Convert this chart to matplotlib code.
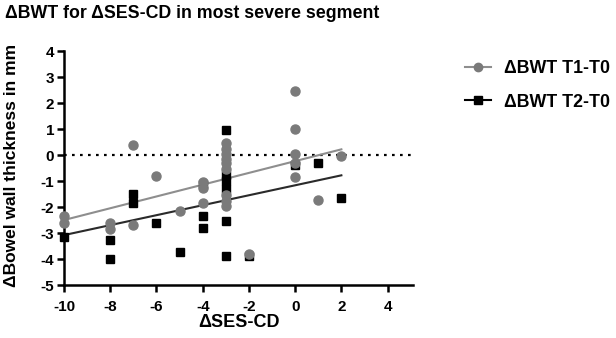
import numpy as np
import matplotlib
matplotlib.use("Agg")
import matplotlib.pyplot as plt

plt.rcParams['font.family'] = ['Liberation Sans', 'DejaVu Sans']

# ΔBWT T1-T0 (circles)
t1_x = [-10, -10, -8, -8, -7, -7, -6, -5, -4, -4, -4,
        -3, -3, -3, -3, -3, -3, -3, -3, -3,
        -2, 0, 0, 0, 0, 0, 1, 2]
t1_y = [-2.35, -2.6, -2.62, -2.86, 0.38, -2.69, -0.81, -2.15, -1.03, -1.25, -1.86,
        0.45, 0.25, 0.05, -0.15, -0.3, -0.55, -1.55, -1.75, -1.95,
        -3.8, 2.47, 0.99, 0.03, -0.3, -0.83, -1.73, -0.05]

# ΔBWT T2-T0 (squares)
t2_x = [-10, -8, -8, -7, -7, -6, -5, -4, -4, -4,
        -3, -3, -3, -3, -3, -3, -2, 0, 1, 2]
t2_y = [-3.14, -3.27, -4.0, -1.51, -1.86, -2.6, -3.72, -1.1, -2.35, -2.82,
        0.96, -0.75, -1.0, -1.3, -2.55, -3.9, -3.9, -0.4, -0.3, -1.64]

# linear-regression lines (values at x = -10 and x = 2)
fit_x = [-10, 2]
fit_t1 = [-2.5, 0.22]
fit_t2 = [-3.08, -0.78]

series_labels = ["ΔBWT T1-T0", "ΔBWT T2-T0"]
x_ticks = [-10, -8, -6, -4, -2, 0, 2, 4]
y_ticks = [4, 3, 2, 1, 0, -1, -2, -3, -4, -5]

fig = plt.figure(figsize=(6.16, 3.38), dpi=100)
ax = fig.add_axes([0.1039, 0.1568, 0.5666, 0.692])

gray = '#7a7a7a'
gray_line = '#8e8e8e'
dark_line = '#2a2a2a'

ax.axhline(0, color='black', linestyle=(0, (1.2, 2.4)), linewidth=1.6, zorder=1)

ax.plot(fit_x, fit_t1, color=gray_line, linewidth=1.5, zorder=2)
ax.plot(fit_x, fit_t2, color=dark_line, linewidth=1.5, zorder=2)

ax.plot(t2_x, t2_y, linestyle='none', marker='s', markersize=6.3,
        color='black', zorder=3, clip_on=False)
ax.plot(t1_x, t1_y, linestyle='none', marker='o', markersize=6.5,
        color=gray, zorder=4, clip_on=False)

# legend handles
h1, = ax.plot([], [], color=gray_line, marker='o', markersize=6, markerfacecolor=gray,
              markeredgecolor=gray, linewidth=1.5)
h2, = ax.plot([], [], color='black', marker='s', markersize=6, linewidth=1.5)
leg = fig.legend([h1, h2], series_labels, loc='upper left',
                 bbox_to_anchor=(0.755, 0.822), frameon=False, borderpad=0,
                 borderaxespad=0, prop={'size': 12.8, 'weight': 'bold'},
                 handlelength=1.45, handletextpad=0.72, labelspacing=0.92)

ax.set_xlim(-10, 5.1)
ax.set_ylim(-5, 4)
ax.set_xticks(x_ticks)
ax.set_yticks(y_ticks)
ax.set_xticklabels([str(v) for v in x_ticks], fontweight='bold', fontsize=11)
ax.set_yticklabels([str(v) for v in y_ticks], fontweight='bold', fontsize=11)
for s in ['top', 'right']:
    ax.spines[s].set_visible(False)
for s in ['left', 'bottom']:
    ax.spines[s].set_linewidth(1.8)
ax.tick_params(width=1.8, length=5)
ax.tick_params(axis='x', pad=6)
ax.tick_params(axis='y', pad=2)

ax.set_xlabel("ΔSES-CD", fontweight='bold', fontsize=13, labelpad=0)
ax.set_ylabel("ΔBowel wall thickness in mm", fontweight='bold', fontsize=12.5)
ax.yaxis.set_label_coords(-0.128, 0.513)

fig.text(0.008, 0.985, "ΔBWT for ΔSES-CD in most severe segment",
         fontweight='bold', fontsize=12.8, ha='left', va='top')

fig.savefig('out.png', dpi=100)
